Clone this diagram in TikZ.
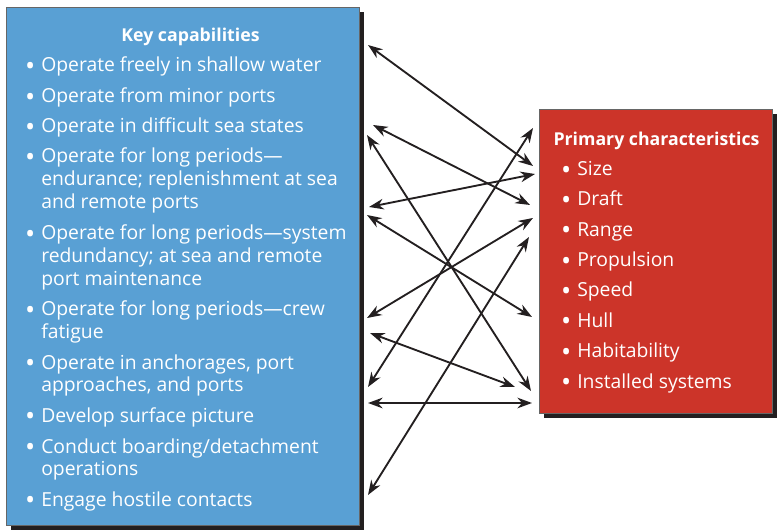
\documentclass[tikz,border=0pt]{standalone}
\usepackage{fontspec}
\setmainfont{Open Sans}
\usetikzlibrary{arrows.meta, positioning, shadows}

\definecolor{capblue}{RGB}{89,160,212}
\definecolor{charred}{RGB}{204,52,41}
\definecolor{shadowblack}{RGB}{35,31,32}
\newcommand{\bul}{\llap{\raisebox{-2.4pt}{\scalebox{1.4}{\textbullet}}\hspace{4.5pt}}}
\newcommand{\lines}[1]{\begin{tabular}[t]{@{}l@{}}#1\end{tabular}}

\begin{document}
\begin{tikzpicture}[
		x=0.75pt, y=-0.75pt,
		box/.style= {
				draw=black!60,
				line width=0.6pt,
				anchor=north west,
				inner sep=0pt,
				drop shadow={shadow xshift=3.6pt, shadow yshift=-3.6pt, opacity=1, fill=shadowblack}
			},
		head/.style= {
				text=white,
				font=\fontsize{13.3}{17}\selectfont\bfseries,
				anchor=base,
				inner sep=0pt
			},
		item/.style= {
				text=white,
				font=\fontsize{14.5}{17}\selectfont,
				anchor=base west,
				inner sep=0pt
			},
		myarrow/.style= {
				{Stealth[length=11pt,width=8pt]}-{Stealth[length=11pt,width=8pt]},
				line width=1.4pt,
				shadowblack
			}
	]
	\useasboundingbox (0,0) rectangle (777,530);

	% boxes
	\node[box, fill=capblue, minimum width=264.75pt, minimum height=388.5pt] (cap) at (6,7) {};
	\node[box, fill=charred, minimum width=174.75pt, minimum height=228pt] (char) at (539,109) {};

	% key capabilities
	\node[head] (caphead) at (190.5,42) {Key capabilities};
	\node[item] (c1) at (41,72) {\bul Operate freely in shallow water};
	\node[item] (c2) at (41,103) {\bul Operate from minor ports};
	\node[item] (c3) at (41,133) {\bul Operate in difficult sea states};
	\node[item] (c4) at (41,163) {\lines{\bul Operate for long periods—\\endurance; replenishment at sea\\and remote ports}};
	\node[item] (c5) at (41,240) {\lines{\bul Operate for long periods—system\\redundancy; at sea and remote\\port maintenance}};
	\node[item] (c6) at (41,316) {\lines{\bul Operate for long periods—crew\\fatigue}};
	\node[item] (c7) at (41,369) {\lines{\bul Operate in anchorages, port\\approaches, and ports}};
	\node[item] (c8) at (41,422) {\bul Develop surface picture};
	\node[item] (c9) at (41,453) {\lines{\bul Conduct boarding/detachment\\operations}};
	\node[item] (c10) at (41,506) {\bul Engage hostile contacts};

	% primary characteristics
	\node[head] (charhead) at (656.5,146) {Primary characteristics};
	\node[item] (p1) at (577,176) {\bul Size};
	\node[item] (p2) at (577,206) {\bul Draft};
	\node[item] (p3) at (577,236.5) {\bul Range};
	\node[item] (p4) at (577,267) {\bul Propulsion};
	\node[item] (p5) at (577,297) {\bul Speed};
	\node[item] (p6) at (577,327.5) {\bul Hull};
	\node[item] (p7) at (577,358) {\bul Habitability};
	\node[item] (p8) at (577,388) {\bul Installed systems};

	% arrow ends
	\coordinate (ka) at (368,45);
	\coordinate (kb) at (373,125);
	\coordinate (kc) at (367,135);
	\coordinate (kd) at (368,387);
	\coordinate (ke) at (369,207);
	\coordinate (kf) at (367,215);
	\coordinate (kg) at (367,318);
	\coordinate (kh) at (368,495);
	\coordinate (ki) at (370,333);
	\coordinate (kj) at (368,403);
	\coordinate (ra) at (533,166);
	\coordinate (rb) at (530,205);
	\coordinate (rc) at (531,391);
	\coordinate (rd) at (533,128);
	\coordinate (re) at (535,174);
	\coordinate (rf) at (532,317);
	\coordinate (rg) at (533,218);
	\coordinate (rh) at (529,237);
	\coordinate (ri) at (515,387);
	\coordinate (rj) at (532,403);

	\draw[myarrow] (ka) -- (ra);
	\draw[myarrow] (kb) -- (rb);
	\draw[myarrow] (kc) -- (rc);
	\draw[myarrow] (kd) -- (rd);
	\draw[myarrow] (ke) -- (re);
	\draw[myarrow] (kf) -- (rf);
	\draw[myarrow] (kg) -- (rg);
	\draw[myarrow] (kh) -- (rh);
	\draw[myarrow] (ki) -- (ri);
	\draw[myarrow] (kj) -- (rj);
\end{tikzpicture}
\end{document}
